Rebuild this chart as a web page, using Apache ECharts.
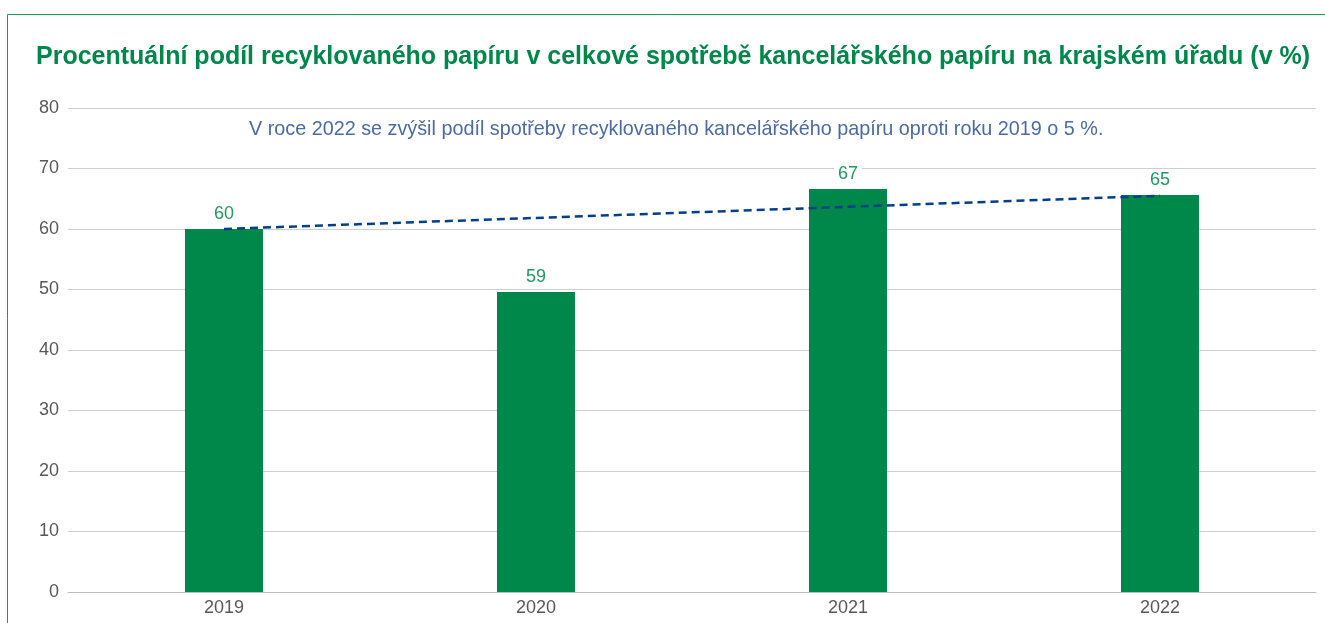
<!DOCTYPE html>
<html><head><meta charset="utf-8">
<script src="https://cdn.jsdelivr.net/npm/echarts@6/dist/echarts.min.js"></script>
<style>html,body{margin:0;padding:0;background:#fff}#c{width:1325px;height:623px}</style>
</head><body><div id="c"></div>
<script>
const categories = ['2019', '2020', '2021', '2022'];
const barValues = [60, 49.6, 66.6, 65.6];
const barLabels = ['60', '59', '67', '65'];
const trendValues = [60, null, null, 65.5];
const yTicks = [0, 10, 20, 30, 40, 50, 60, 70, 80];
const titleText = 'Procentuální podíl recyklovaného papíru v celkové spotřebě kancelářského papíru na krajském úřadu (v %)';
const noteText = 'V roce 2022 se zvýšil podíl spotřeby recyklovaného kancelářského papíru oproti roku 2019 o 5 %.';

const chart = echarts.init(document.getElementById('c'), null, {renderer: 'canvas'});
const FONT = '"Liberation Sans", Arial, Helvetica, sans-serif';
chart.setOption({
  animation: false,
  textStyle: {fontFamily: FONT},
  title: [{
    text: titleText, left: 31, top: 40,
    textStyle: {color: '#00874A', fontWeight: 'bold', fontSize: 25, fontFamily: FONT}
  }, {
    text: noteText, left: 244, top: 115,
    textStyle: {color: '#4A6BA8', fontWeight: 'normal', fontSize: 19.8, fontFamily: FONT}
  }],
  graphic: [
    {type: 'line', shape: {x1: 7.5, y1: 14.5, x2: 1325, y2: 14.5}, style: {stroke: '#1A9A5C', lineWidth: 1}, silent: true},
    {type: 'line', shape: {x1: 7.5, y1: 14.5, x2: 7.5, y2: 623}, style: {stroke: '#1A9A5C', lineWidth: 1}, silent: true}
  ],
  grid: {left: 68, right: 9, top: 108, bottom: 31, containLabel: false},
  xAxis: {
    type: 'category', data: categories,
    axisLine: {show: true, lineStyle: {color: '#BFBFBF', width: 1}},
    axisTick: {show: false},
    axisLabel: {color: '#595959', fontSize: 18, margin: 7, fontFamily: FONT}
  },
  yAxis: {
    type: 'value', min: yTicks[0], max: yTicks[yTicks.length - 1], interval: 10,
    axisLine: {show: false}, axisTick: {show: false},
    splitLine: {lineStyle: {color: '#CFCFCF', width: 1}},
    axisLabel: {color: '#595959', fontSize: 18, margin: 9, fontFamily: FONT}
  },
  series: [{
    type: 'bar', data: barValues, barWidth: '25%',
    itemStyle: {color: '#00874A'},
    label: {
      show: true, position: 'top', distance: 5,
      color: '#1F9A5E', fontSize: 18, fontFamily: FONT,
      backgroundColor: '#fff', padding: [1, 4],
      formatter: p => barLabels[p.dataIndex]
    },
    z: 2
  }, {
    type: 'line', data: trendValues, connectNulls: true,
    symbol: 'none',
    lineStyle: {color: '#003F8A', width: 2.5, type: [8, 5]},
    z: 3
  }]
});
</script></body></html>
